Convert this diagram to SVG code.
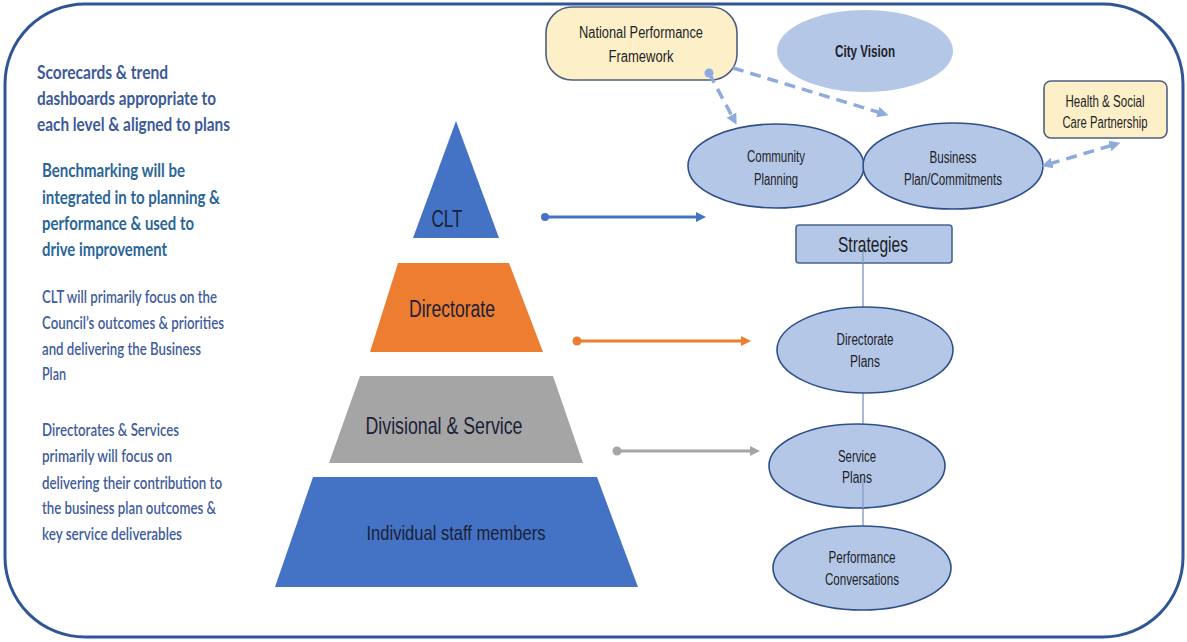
<svg xmlns="http://www.w3.org/2000/svg" width="1187" height="642" viewBox="0 0 1187 642">
  <style>
    .side { font-family: Lato, "Liberation Sans", sans-serif; font-size: 19px; }
    .b1 { fill: #3d5a98; font-weight: 700; }
    .b2 { fill: #2a6699; font-weight: 700; }
    .b3 { fill: #3f5c9c; font-weight: 600; font-size: 18px; }
    .pyr { font-family: "Liberation Sans", Arial, sans-serif; fill: #1b2136; text-anchor: middle; }
    .lbl { font-family: "Liberation Sans", Arial, sans-serif; font-size: 16px; fill: #1e1e28; text-anchor: middle; }
    .ell { fill: #b4c7e7; stroke: #2f4f8a; stroke-width: 1.6; }
    .yel { fill: #fdf0c9; stroke: #4e5f82; stroke-width: 1.6; }
    .dash { fill: none; stroke: #8faadc; stroke-width: 3.5; stroke-dasharray: 11 7; }
    .vline { stroke: #8ea3c8; stroke-width: 1.5; fill: none; }
  </style>
  <defs>
    <marker id="ahBlue" viewBox="0 0 10 10" refX="3" refY="5" markerWidth="10" markerHeight="12" markerUnits="userSpaceOnUse" orient="auto">
      <path d="M0,0 L10,5 L0,10 z" fill="#4472c4"/>
    </marker>
    <marker id="ahOrange" viewBox="0 0 10 10" refX="3" refY="5" markerWidth="10" markerHeight="12" markerUnits="userSpaceOnUse" orient="auto">
      <path d="M0,0 L10,5 L0,10 z" fill="#ed7d31"/>
    </marker>
    <marker id="ahGray" viewBox="0 0 10 10" refX="3" refY="5" markerWidth="10" markerHeight="12" markerUnits="userSpaceOnUse" orient="auto">
      <path d="M0,0 L10,5 L0,10 z" fill="#a5a5a5"/>
    </marker>
    <marker id="ahDash" viewBox="0 0 10 10" refX="3" refY="5" markerWidth="11" markerHeight="12" markerUnits="userSpaceOnUse" orient="auto-start-reverse">
      <path d="M0,0 L10,5 L0,10 z" fill="#8faadc"/>
    </marker>
  </defs>

  <rect id="frame" x="5" y="4" width="1178" height="633" rx="80" ry="80" fill="#ffffff" stroke="#2f5597" stroke-width="3"/>

  <g id="notes" class="side">
    <text class="b1" x="37" y="79" textLength="131" lengthAdjust="spacingAndGlyphs">Scorecards &amp; trend</text>
    <text class="b1" x="37" y="105" textLength="179" lengthAdjust="spacingAndGlyphs">dashboards appropriate to</text>
    <text class="b1" x="37" y="131" textLength="193" lengthAdjust="spacingAndGlyphs">each level &amp; aligned to plans</text>

    <text class="b2" x="42" y="177" textLength="143" lengthAdjust="spacingAndGlyphs">Benchmarking will be</text>
    <text class="b2" x="42" y="204" textLength="178" lengthAdjust="spacingAndGlyphs">integrated in to planning &amp;</text>
    <text class="b2" x="42" y="230" textLength="152" lengthAdjust="spacingAndGlyphs">performance &amp; used to</text>
    <text class="b2" x="42" y="256" textLength="125" lengthAdjust="spacingAndGlyphs">drive improvement</text>

    <text class="b3" x="42" y="303" textLength="175" lengthAdjust="spacingAndGlyphs">CLT will primarily focus on the</text>
    <text class="b3" x="42" y="329" textLength="182" lengthAdjust="spacingAndGlyphs">Council’s outcomes &amp; priorities</text>
    <text class="b3" x="42" y="355" textLength="159" lengthAdjust="spacingAndGlyphs">and delivering the Business</text>
    <text class="b3" x="42" y="380" textLength="24" lengthAdjust="spacingAndGlyphs">Plan</text>

    <text class="b3" x="42" y="436" textLength="137" lengthAdjust="spacingAndGlyphs">Directorates &amp; Services</text>
    <text class="b3" x="42" y="462" textLength="130" lengthAdjust="spacingAndGlyphs">primarily will focus on</text>
    <text class="b3" x="42" y="489" textLength="180" lengthAdjust="spacingAndGlyphs">delivering their contribution to</text>
    <text class="b3" x="42" y="514" textLength="174" lengthAdjust="spacingAndGlyphs">the business plan outcomes &amp;</text>
    <text class="b3" x="42" y="540" textLength="140" lengthAdjust="spacingAndGlyphs">key service deliverables</text>
  </g>

  <g id="clt">
    <polygon points="456,121 499,238 413,238" fill="#4472c4"/>
    <text class="pyr" x="447" y="227" font-size="24" textLength="31" lengthAdjust="spacingAndGlyphs">CLT</text>
  </g>
  <g id="directorate">
    <polygon points="398,263 509,263 543,352 370,352" fill="#ed7d31"/>
    <text class="pyr" x="452" y="317" font-size="23" textLength="86" lengthAdjust="spacingAndGlyphs">Directorate</text>
  </g>
  <g id="divisional">
    <polygon points="360,376 553,376 583,463 329,463" fill="#a5a5a5"/>
    <text class="pyr" x="444" y="434" font-size="24" textLength="157" lengthAdjust="spacingAndGlyphs">Divisional &amp; Service</text>
  </g>
  <g id="individual">
    <polygon points="313,477 597,477 638,587 275,587" fill="#4472c4"/>
    <text class="pyr" x="456" y="540" font-size="21" textLength="179" lengthAdjust="spacingAndGlyphs">Individual staff members</text>
  </g>

  <g id="npf">
    <rect class="yel" x="546" y="7" width="191" height="73" rx="26" ry="26"/>
    <text class="lbl" x="641" y="38" textLength="124" lengthAdjust="spacingAndGlyphs">National Performance</text>
    <text class="lbl" x="641" y="62" textLength="65" lengthAdjust="spacingAndGlyphs">Framework</text>
  </g>
  <g id="city-vision">
    <ellipse cx="865" cy="51" rx="88" ry="41" fill="#b4c7e7"/>
    <text class="lbl" x="865" y="57" font-weight="700" textLength="60" lengthAdjust="spacingAndGlyphs">City Vision</text>
  </g>
  <g id="hscp">
    <rect class="yel" x="1044" y="81" width="123" height="57" rx="7" ry="7"/>
    <text class="lbl" x="1105" y="107" textLength="79" lengthAdjust="spacingAndGlyphs">Health &amp; Social</text>
    <text class="lbl" x="1105" y="128" textLength="85" lengthAdjust="spacingAndGlyphs">Care Partnership</text>
  </g>
  <g id="community-planning">
    <ellipse class="ell" cx="776" cy="166" rx="88" ry="42"/>
    <text class="lbl" x="776" y="162" textLength="58" lengthAdjust="spacingAndGlyphs">Community</text>
    <text class="lbl" x="776" y="185" textLength="44" lengthAdjust="spacingAndGlyphs">Planning</text>
  </g>
  <g id="business-plan">
    <ellipse class="ell" cx="953" cy="166" rx="90" ry="43"/>
    <text class="lbl" x="953" y="163" textLength="47" lengthAdjust="spacingAndGlyphs">Business</text>
    <text class="lbl" x="953" y="185" textLength="98" lengthAdjust="spacingAndGlyphs">Plan/Commitments</text>
  </g>

  <g id="connectors">
    <line x1="545" y1="217" x2="699" y2="217" stroke="#4472c4" stroke-width="3" marker-end="url(#ahBlue)"/>
    <circle cx="545" cy="217" r="4" fill="#4472c4"/>
    <line x1="577" y1="341" x2="744" y2="341" stroke="#ed7d31" stroke-width="3" marker-end="url(#ahOrange)"/>
    <circle cx="577" cy="341" r="4.5" fill="#ed7d31"/>
    <line x1="617" y1="451" x2="753" y2="451" stroke="#a5a5a5" stroke-width="3" marker-end="url(#ahGray)"/>
    <circle cx="617" cy="451" r="4.5" fill="#a5a5a5"/>

    <line class="dash" x1="709" y1="73" x2="733" y2="118" marker-end="url(#ahDash)"/>
    <circle cx="709" cy="73" r="4.5" fill="#8faadc"/>
    <line class="dash" x1="733" y1="68" x2="881" y2="113" marker-end="url(#ahDash)"/>
    <line class="dash" x1="1049" y1="164" x2="1113" y2="145" marker-start="url(#ahDash)" marker-end="url(#ahDash)"/>

    <line class="vline" x1="863" y1="250" x2="863" y2="308"/>
    <line class="vline" x1="863" y1="392" x2="863" y2="425"/>
    <line class="vline" x1="863" y1="478" x2="863" y2="527"/>
  </g>

  <g id="strategies">
    <rect x="796" y="225" width="156" height="38" rx="3" ry="3" fill="#b4c7e7" stroke="#4a6491" stroke-width="1.6"/>
    <line class="vline" x1="863" y1="248" x2="863" y2="263"/>
    <text x="873" y="252" font-family="Liberation Sans, Arial, sans-serif" font-size="22" fill="#1e1e28" text-anchor="middle" textLength="70" lengthAdjust="spacingAndGlyphs">Strategies</text>
  </g>
  <g id="directorate-plans">
    <ellipse class="ell" cx="865" cy="350" rx="88" ry="43"/>
    <text class="lbl" x="865" y="345" textLength="57" lengthAdjust="spacingAndGlyphs">Directorate</text>
    <text class="lbl" x="865" y="367" textLength="30" lengthAdjust="spacingAndGlyphs">Plans</text>
  </g>
  <g id="service-plans">
    <ellipse class="ell" cx="857" cy="466" rx="88" ry="42"/>
    <line class="vline" x1="863" y1="478" x2="863" y2="508"/>
    <text class="lbl" x="857" y="462" textLength="38" lengthAdjust="spacingAndGlyphs">Service</text>
    <text class="lbl" x="857" y="483" textLength="30" lengthAdjust="spacingAndGlyphs">Plans</text>
  </g>
  <g id="performance-conversations">
    <ellipse class="ell" cx="862" cy="568" rx="89" ry="42"/>
    <text class="lbl" x="862" y="563" textLength="67" lengthAdjust="spacingAndGlyphs">Performance</text>
    <text class="lbl" x="862" y="585" textLength="74" lengthAdjust="spacingAndGlyphs">Conversations</text>
  </g>
</svg>
